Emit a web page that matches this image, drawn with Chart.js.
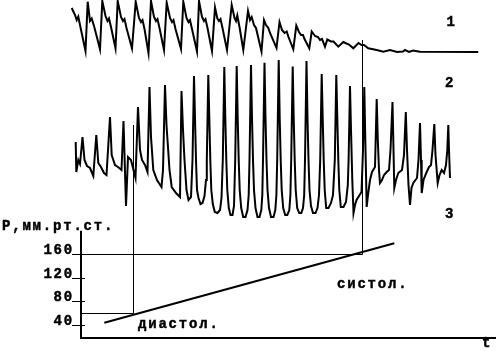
<!DOCTYPE html>
<html>
<head>
<meta charset="utf-8">
<script src="https://cdn.jsdelivr.net/npm/chart.js@4/dist/chart.umd.min.js"></script>
<style>
html,body{margin:0;padding:0;background:#fff;}
canvas{display:block;}
</style>
</head>
<body>
<canvas id="c" width="497" height="351"></canvas>
<script>
// ---------- DATA ----------
// time axis t (arbitrary units), traces in arbitrary amplitude units, pressure in mm Hg
const pulseWave = [ // trace 1 : [t, amplitude]
[-9.3,44],[-6,37],[-4.3,32],[-2.7,35.3],[-1,27],[4.5,1],
[6.7,50.3],[9,31],[10.7,33.5],[13.3,25],[19,2.7],
[21.3,51],[24.5,36],[26.5,31],[28,33.5],[30,25],[34.5,3.7],
[36.7,51],[40,35],[42,31],[43.5,33],[45.5,24],[51,3.5],
[54.7,50.3],[58,34],[60,30],[61.5,32],[63.5,23],[67.5,-1],
[70,51],[73,35],[75,31],[76.5,33],[78.5,24],[83,2],
[85.7,49.3],[89,34],[91,30],[92.5,32],[94.5,23],[100,3],
[102.3,50.3],[105.5,34],[107.5,30],[109,32],[111,23],[116,0.5],
[118,51],[121,35],[123,31],[124.5,33],[126.5,24],[131,1],
[134,44.5],[136.3,33.7],[138,31],[139.5,33],[141.5,24],[146,2],
[150.7,47],[153.5,34],[155,31],[156.3,36.5],[158.5,25],[162.3,2],
[167,41],[169,32],[170.7,35],[173,27],[175,24],[180.5,0.5],
[183,32],[185,27],[187.3,24],[189,19],[195.5,4],
[198.5,30],[201,22],[203.5,19],[205.7,20.5],[207.5,15],[212.3,2.7],
[215.3,26.5],[218,20],[220,17],[222,17],[223.5,13],[228.3,3.7],
[230.7,20.5],[234,16],[237,15],[239,12],[241,13],[244,5.3],
[246.3,12.5],[250,10.5],[252.5,10.5],[257.3,5.3],
[262.3,10],[265.5,8.5],[268,7.5],[272.3,3.7],
[277.5,9],[280.5,7],[283,7],[287.3,3.7],[295.7,2],[302.3,0.3],
[309,2],[316,0],[322,0.5],[324,2],[328,0],[332,1.5],[339,0.3],[397.3,0]
];

const oscillogram = [ // trace 2 : [t, amplitude]
[-5.3,78],[-4.7,48],[-2.7,60],[-1,56],[1.5,83],[3.5,60],[6,54],[9,52],[12.3,44],
[15.3,85],[17.3,57],[20,53],[23,47],[25.5,45],
[29,103],[30.7,65],[34,55],[37,53],[40.5,50],
[42.5,99],[45,14],[47,63],[50,60],[52.5,50],[54.5,42],
[57,113],[59,70],[61,60],[64,55],[66.5,48],
[68.5,133],[70,83],[72.3,50],[76,40],[80.5,33],[82,50],
[84,135],[85.5,95],[86.7,77],[88.5,50],[90.7,33],[95,27],[99,23],
[100.5,129],[102,90],[103.5,60],[105.5,30],[107.5,20],[110,23],[111.5,60],
[113,144],[114,102],[115,60],[116,30],[117.5,22],[119.5,16],[121.5,17],[123.5,24],[125,40],[125.8,60],
[127.3,145],[128.3,102],[129.3,60],[130.3,30],[131.8,16],[133.8,8],[136.5,7],[139,10],[140.5,22],[141.8,60],
[143.3,153],[144.3,102],[145.3,60],[146.3,30],[147.8,12],[149.5,5],[151.5,5],[153,14],[154.2,60],
[155.7,154],[156.7,102],[157.7,60],[158.7,30],[160.2,12],[162.2,3],[164.5,3],[166.5,10],[167.7,25],[168.5,60],
[170,155],[171,102],[172,60],[173,30],[174.5,12],[176.5,3],[178.5,3],[180.3,10],[181.3,25],[182,60],
[183.5,157.3],[184.5,102],[185.5,60],[186.5,30],[188,12],[190,3],[192.5,3],[194.3,10],[195.4,25],[196.2,60],
[197.7,160],[198.7,102],[199.7,60],[200.7,30],[202.2,12],[204.2,5],[206.3,5],[208.3,10],[209.4,25],[210.2,60],
[211.7,153.5],[212.7,102],[213.7,60],[214.7,30],[216.2,12],[218.2,7],[220.3,7],[222,12],[223.2,25],[224,60],
[225.5,159],[226.5,102],[227.5,60],[228.5,30],[230,14],[232,7],[234.5,7],[236.5,12],[238,25],[239.2,60],
[240.7,146],[241.7,102],[242.7,60],[243.7,30],[245.2,12],[247.5,12],[250,17],[252,25],[253.8,60],
[255.3,145],[256.3,102],[257.3,60],[258.3,30],[259.8,13],[262.5,13],[265,18],[266.8,35],[267.6,60],
[269,134],[270,90],[271.3,40],[272.5,7],[274,15],[275.5,20],[278,24],[280.5,28],[282,70],
[283.3,133],[284.3,80],[285.7,13],[287,25],[289,40],[291,48],[294,53],
[295.7,121],[296.8,80],[298,50],[299,37],[301,40],[303,45],[305.7,48],[308,50],[309.5,70],
[311.5,118],[312.5,70],[313.3,32],[315,40],[317.3,47],[321,50],[323,65],
[324.8,108],[326,70],[327.5,35],[329,15],[330.5,32],[332.3,37],[336,42],[337.5,60],
[339,97],[340,60],[340.7,27],[342.5,40],[345.7,48],[348,53],[350,55],[351.5,70],
[353.3,96],[354.5,65],[356.7,37],[358.5,45],[360.7,50],[363,47],[365,55],[366.3,70],
[367.3,95],[368,70],[369,42]
];

const cuffPressure = [[23.3,44],[313.3,179]]; // [t, mm Hg]

const pressureTicks = [40, 80, 120, 160];
const pressureAxisTop = 200;
const systolic = {t: 280.7, p: 160, top: 12};   // top: level on trace 1
const diastolic = {t: 52, p: 60, top: 95};      // top: level on trace 2
const axisTitle = 'P,мм.рт.ст.';
const timeLabel = 't';
const traceLabels = ['1', '2', '3'];
const phaseLabels = {diastolic: 'диастол.', systolic: 'систол.'};

// ---------- DRAWING ----------
const toXY = a => a.map(p => ({x: p[0], y: p[1]}));
const FONT = 'bold 14px "Liberation Mono", monospace';

const overlay = {
  id: 'overlay',
  afterDatasetsDraw(chart) {
    const ctx = chart.ctx;
    const X = chart.scales.x, P = chart.scales.yP, A1 = chart.scales.y1, A2 = chart.scales.y2;
    const crisp = v => Math.round(v) + 0.5;
    const text = (s, x, y) => { ctx.fillText(s, x, y); ctx.strokeText(s, x, y); };
    ctx.save();
    ctx.strokeStyle = '#000';
    ctx.fillStyle = '#000';
    // axes
    const x0 = X.getPixelForValue(0);
    ctx.lineWidth = 2;
    ctx.beginPath();
    ctx.moveTo(x0, P.getPixelForValue(pressureAxisTop));
    ctx.lineTo(x0, P.bottom);
    ctx.lineTo(X.right, P.bottom);
    ctx.stroke();
    // ticks
    ctx.lineWidth = 1;
    pressureTicks.forEach(v => {
      const y = crisp(P.getPixelForValue(v));
      ctx.beginPath(); ctx.moveTo(x0 - 9, y); ctx.lineTo(x0 + 4, y); ctx.stroke();
    });
    // systolic / diastolic markers
    [[systolic, A1], [diastolic, A2]].forEach(([m, A]) => {
      const xs = crisp(X.getPixelForValue(m.t));
      const yb = crisp(P.getPixelForValue(m.p));
      ctx.beginPath();
      ctx.moveTo(xs, A.getPixelForValue(m.top));
      ctx.lineTo(xs, yb);
      ctx.lineTo(x0, yb);
      ctx.stroke();
    });
    // texts
    ctx.font = FONT;
    ctx.letterSpacing = '1.8px';
    ctx.textBaseline = 'alphabetic';
    ctx.lineWidth = 0.45;
    ctx.textAlign = 'right';
    pressureTicks.forEach(v => {
      const y = crisp(P.getPixelForValue(v));
      text(String(v), x0 - 7, y - 0.5);
    });
    ctx.textAlign = 'left';
    text(axisTitle, 2, 229.5);
    text(phaseLabels.diastolic, X.getPixelForValue(57), 327.5);
    text(phaseLabels.systolic, X.getPixelForValue(256), 287.5);
    text(timeLabel, X.getPixelForValue(401), 347);
    text(traceLabels[0], X.getPixelForValue(365.5), 26);
    text(traceLabels[1], X.getPixelForValue(364), 86.5);
    text(traceLabels[2], X.getPixelForValue(364), 218);
    ctx.restore();
  }
};

const common = {borderColor: '#000', borderWidth: 2, pointRadius: 0, tension: 0, fill: false, clip: false};

new Chart(document.getElementById('c'), {
  type: 'line',
  data: {
    datasets: [
      Object.assign({label: '1', data: toXY(pulseWave), yAxisID: 'y1'}, common),
      Object.assign({label: '2', data: toXY(oscillogram), yAxisID: 'y2'}, common),
      Object.assign({label: '3', data: toXY(cuffPressure), yAxisID: 'yP'}, common)
    ]
  },
  options: {
    responsive: false,
    animation: false,
    layout: {padding: {left: 66, right: 1, top: 0, bottom: 13}},
    plugins: {legend: {display: false}, tooltip: {enabled: false}},
    scales: {
      x: {type: 'linear', min: -15, max: 415, display: false},
      y1: {type: 'linear', min: -286, max: 52, display: false},
      y2: {type: 'linear', min: -118, max: 220, display: false},
      yP: {type: 'linear', min: 18, max: 592, display: false}
    }
  },
  plugins: [overlay]
});
</script>
</body>
</html>
